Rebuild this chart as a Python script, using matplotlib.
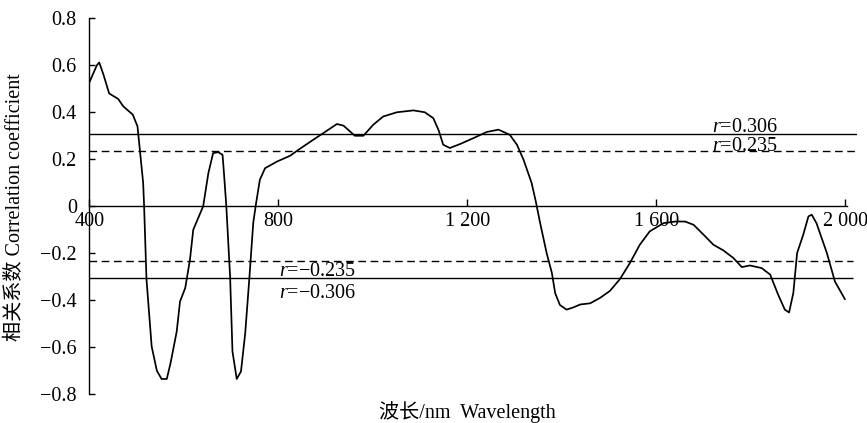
import matplotlib
matplotlib.use("Agg")
import matplotlib.pyplot as plt

plt.rcParams['font.family'] = ['Liberation Serif', 'Noto Sans CJK SC']
plt.rcParams['mathtext.fontset'] = 'custom'
plt.rcParams['mathtext.rm'] = 'Liberation Serif'
plt.rcParams['mathtext.it'] = 'Liberation Serif:italic'

# correlation coefficient vs wavelength
wavelength = [401, 416, 421, 430, 442, 461, 472, 492, 502, 507, 514, 516, 521,
              532, 543, 553, 564, 572, 585, 592, 603, 613, 620, 641, 652, 662,
              673, 682, 685, 690, 698, 703, 712, 721, 730, 739, 747, 753, 761,
              772, 797, 825, 846, 874, 895, 924, 938, 952, 962, 980, 1001,
              1022, 1051, 1086, 1110, 1128, 1139, 1149, 1163, 1185, 1213, 1241,
              1266, 1290, 1305, 1319, 1336, 1345, 1354, 1368, 1379, 1386, 1396,
              1410, 1425, 1439, 1460, 1481, 1502, 1523, 1544, 1565, 1586, 1615,
              1640, 1661, 1679, 1700, 1721, 1742, 1763, 1781, 1798, 1823, 1841,
              1858, 1872, 1881, 1890, 1898, 1911, 1922, 1929, 1939, 1961, 1978,
              1999]
corr = [0.531, 0.600, 0.612, 0.560, 0.480, 0.457, 0.425, 0.390, 0.340, 0.240,
        0.099, 0.0, -0.310, -0.597, -0.700, -0.735, -0.735, -0.667, -0.533,
        -0.405, -0.348, -0.228, -0.100, 0.0, 0.141, 0.226, 0.230, 0.219, 0.141,
        0.0, -0.300, -0.618, -0.735, -0.703, -0.540, -0.299, -0.070, 0.013,
        0.113, 0.162, 0.190, 0.215, 0.245, 0.283, 0.311, 0.350, 0.343, 0.318,
        0.300, 0.300, 0.347, 0.382, 0.400, 0.408, 0.400, 0.375, 0.325, 0.262,
        0.248, 0.265, 0.290, 0.316, 0.326, 0.304, 0.262, 0.198, 0.100, 0.020,
        -0.070, -0.200, -0.284, -0.370, -0.420, -0.440, -0.430, -0.418, -0.413,
        -0.390, -0.360, -0.310, -0.242, -0.164, -0.107, -0.072, -0.065, -0.065,
        -0.079, -0.121, -0.164, -0.188, -0.220, -0.259, -0.252, -0.263, -0.291,
        -0.377, -0.440, -0.452, -0.369, -0.199, -0.121, -0.043, -0.036, -0.072,
        -0.199, -0.320, -0.395]

# significance thresholds
thresholds = [0.306, 0.235, -0.235, -0.306]
threshold_styles = ['-', (0, (5.5, 3.3)), (0, (5.5, 3.3)), '-']

xticks = [400, 800, 1200, 1600, 2000]
xtick_labels = ['400', '800', '1 200', '1 600', '2 000']
yticks = [-0.8, -0.6, -0.4, -0.2, 0, 0.2, 0.4, 0.6, 0.8]
ytick_labels = ['\u22120.8', '\u22120.6', '\u22120.4', '\u22120.2', '0',
                '0.2', '0.4', '0.6', '0.8']

fig = plt.figure(figsize=(8.67, 4.23), dpi=100)
ax = fig.add_axes([0.103, 0.068, 0.8856, 0.8888])

ax.plot(wavelength, corr, color='black', lw=1.25)

for t, ls in zip(thresholds, threshold_styles):
    xend = 2025 if t > 0 else 2017
    ax.hlines(t, 400, xend, colors='black', linestyles=ls, lw=1.0)

fs = 14.5
ax.text(1718, 0.306 + 0.012, r'$r$=0.306', fontsize=fs, va='baseline')
ax.text(1718, 0.235, r'$r$=0.235', fontsize=fs, va='baseline')
ax.text(802, -0.306 + 0.008, r'$r$=$-$0.235', fontsize=fs, va='baseline')
ax.text(802, -0.39, r'$r$=$-$0.306', fontsize=fs, va='baseline')

ax.set_xlim(400, 2025)
ax.set_ylim(-0.8, 0.8)

ax.spines['top'].set_visible(False)
ax.spines['right'].set_visible(False)
ax.spines['bottom'].set_position(('data', 0))
ax.spines['bottom'].set_bounds(400, 2004)
ax.spines['left'].set_linewidth(1.0)
ax.spines['bottom'].set_linewidth(1.0)

ax.set_xticks(xticks)
ax.set_xticklabels(xtick_labels)
ax.set_yticks(yticks)
ax.set_yticklabels(ytick_labels)
ax.tick_params(axis='x', direction='in', length=5, width=1.0, pad=4, labelsize=fs)
ax.tick_params(axis='y', direction='in', length=4, width=1.0, pad=9, labelsize=fs)

fig.text(15 / 867, 0.51, '相关系数 Correlation coefficient', rotation=90,
         ha='center', va='center', fontsize=fs)
fig.text(467 / 867, 0.026, '波长/nm  Wavelength', ha='center', va='center',
         fontsize=fs)

fig.savefig('out.png', dpi=100)
